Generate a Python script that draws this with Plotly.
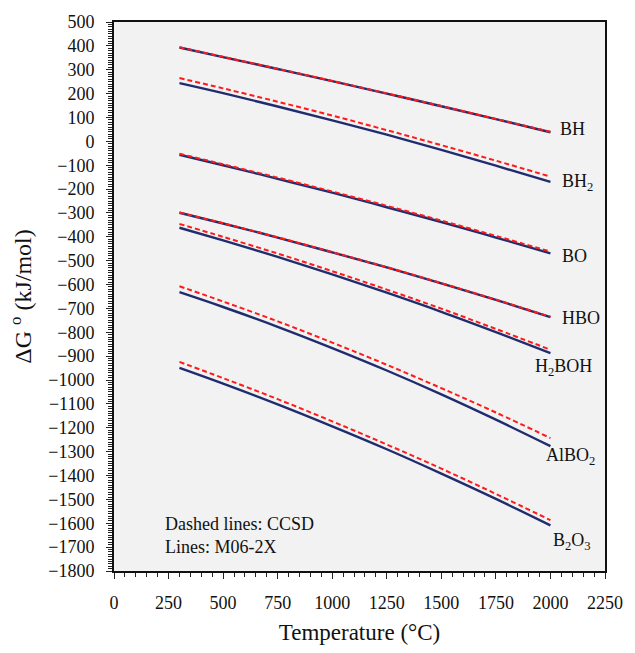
import plotly.graph_objects as go

temperature = [300, 500, 750, 1000, 1250, 1500, 1750, 2000]

species = ["BH", "BH<sub>2</sub>", "BO", "HBO", "H<sub>2</sub>BOH", "AlBO<sub>2</sub>", "B<sub>2</sub>O<sub>3</sub>"]

# M06-2X (solid lines), kJ/mol
m06_BH    = [393, 353, 303, 252, 200, 147, 93, 38]
m06_BH2   = [244, 202, 146, 88, 28, -36, -102, -170]
m06_BO    = [-56, -100, -157, -215, -276, -338, -403, -469]
m06_HBO   = [-299, -344, -403, -465, -528, -595, -664, -736]
m06_H2BOH = [-362, -415, -484, -557, -634, -714, -799, -887]
m06_AlBO2 = [-632, -694, -777, -866, -960, -1060, -1166, -1277]
m06_B2O3  = [-949, -1015, -1102, -1194, -1290, -1392, -1498, -1609]

# CCSD (dashed lines), kJ/mol
ccsd_BH    = [394, 354, 304, 253, 201, 148, 94, 40]
ccsd_BH2   = [265, 222, 166, 108, 47, -16, -81, -148]
ccsd_BO    = [-52, -96, -152, -210, -270, -332, -396, -462]
ccsd_HBO   = [-298, -343, -402, -464, -527, -594, -663, -735]
ccsd_H2BOH = [-346, -400, -470, -544, -621, -701, -786, -873]
ccsd_AlBO2 = [-607, -671, -754, -843, -936, -1034, -1136, -1243]
ccsd_B2O3  = [-924, -992, -1080, -1173, -1270, -1371, -1477, -1587]

m06 = [m06_BH, m06_BH2, m06_BO, m06_HBO, m06_H2BOH, m06_AlBO2, m06_B2O3]
ccsd = [ccsd_BH, ccsd_BH2, ccsd_BO, ccsd_HBO, ccsd_H2BOH, ccsd_AlBO2, ccsd_B2O3]

# label anchor positions (data coords)
label_x = [2033, 2042, 2042, 2042, 2060, 2092, 2101]
label_y = [53, -172, -480, -738, -948, -1322, -1677]
label_anchor = ["left", "left", "left", "left", "center", "center", "center"]

SOLID = "#1f2d6e"
DASH = "#ff1a1a"
FONT = "Liberation Serif, Times New Roman, serif"

fig = go.Figure()
for name, ys in zip(species, m06):
    fig.add_trace(go.Scatter(x=temperature, y=ys, mode="lines", name=name + " M06-2X",
                             line=dict(color=SOLID, width=2.4, shape="spline"),
                             showlegend=False))
for name, ys in zip(species, ccsd):
    fig.add_trace(go.Scatter(x=temperature, y=ys, mode="lines", name=name + " CCSD",
                             line=dict(color=DASH, width=2, dash="5px,3px", shape="spline"),
                             showlegend=False))

for name, lx, ly, anc in zip(species, label_x, label_y, label_anchor):
    fig.add_annotation(x=lx, y=ly, text=name, showarrow=False, xanchor=anc, yanchor="middle",
                       font=dict(family=FONT, size=18, color="#111"))

fig.add_annotation(x=225, y=-1650, text="Dashed lines: CCSD<br>Lines: M06-2X", showarrow=False,
                   xanchor="left", yanchor="middle", align="left",
                   font=dict(family=FONT, size=18, color="#111"))

fig.update_layout(
    width=635, height=653,
    margin=dict(l=114, r=22, t=16, b=76),
    paper_bgcolor="white", plot_bgcolor="#f2f2f2",
    font=dict(family=FONT, color="#111"),
)
fig.update_xaxes(
    range=[0, 2250], tickmode="linear", tick0=0, dtick=250,
    ticks="outside", ticklen=6, tickwidth=1.2, tickcolor="#222",
    minor=dict(dtick=50, ticks="outside", ticklen=4, tickwidth=1, tickcolor="#222"),
    showgrid=False, zeroline=False,
    showline=True, linecolor="#111", linewidth=2, mirror=True,
    tickfont=dict(family=FONT, size=18, color="#111"), ticklabelstandoff=8,
    title=dict(text="Temperature (°C)", font=dict(family=FONT, size=23, color="#111"), standoff=12),
)
fig.update_yaxes(
    range=[-1800, 500], tickmode="linear", tick0=0, dtick=100,
    ticks="outside", ticklen=6, tickwidth=1.2, tickcolor="#222",
    minor=dict(dtick=10, ticks="outside", ticklen=4, tickwidth=1, tickcolor="#222"),
    showgrid=False, zeroline=False,
    showline=True, linecolor="#111", linewidth=2, mirror=True,
    tickfont=dict(family=FONT, size=18, color="#111"), ticklabelstandoff=8,
    title=dict(text="ΔG <sup>o</sup> (kJ/mol)", font=dict(family=FONT, size=24, color="#111"), standoff=10),
)

fig.write_html("out.html")
